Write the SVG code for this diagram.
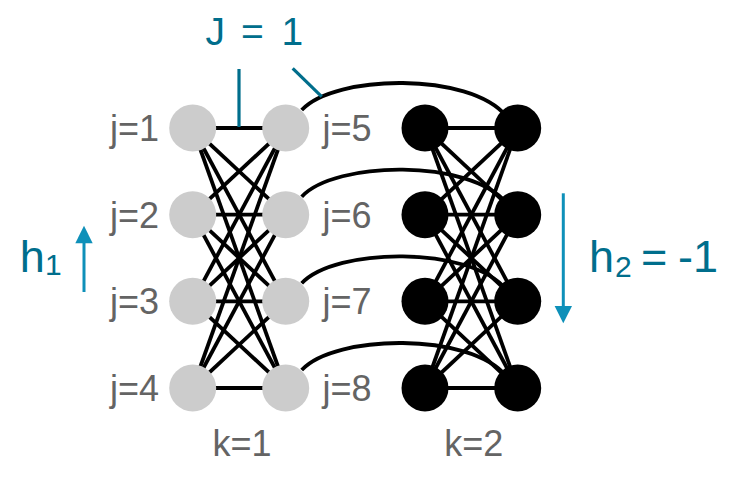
<svg xmlns="http://www.w3.org/2000/svg" width="735" height="490" viewBox="0 0 735 490">
<style>
.e{stroke:#000;stroke-width:3.8;fill:none}
.arc{stroke:#000;stroke-width:3.8;fill:none}
.lead{stroke:#006E8C;stroke-width:3.2;fill:none}
.g{fill:#CCCCCC}
.b{fill:#000}
.lbl{font-family:"Liberation Sans",Arial,sans-serif;font-size:36px;fill:#646464}
.teal{font-family:"Liberation Sans",Arial,sans-serif;fill:#006E8C}
</style>
<rect width="735" height="490" fill="#fff"/>
<g id="connectors">
<g id="edges-k1">
<line class="e" x1="192.7" y1="128" x2="285.7" y2="128"/>
<line class="e" x1="192.7" y1="128" x2="285.7" y2="214.7"/>
<line class="e" x1="192.7" y1="128" x2="285.7" y2="301.3"/>
<line class="e" x1="192.7" y1="128" x2="285.7" y2="388"/>
<line class="e" x1="192.7" y1="214.7" x2="285.7" y2="128"/>
<line class="e" x1="192.7" y1="214.7" x2="285.7" y2="214.7"/>
<line class="e" x1="192.7" y1="214.7" x2="285.7" y2="301.3"/>
<line class="e" x1="192.7" y1="214.7" x2="285.7" y2="388"/>
<line class="e" x1="192.7" y1="301.3" x2="285.7" y2="128"/>
<line class="e" x1="192.7" y1="301.3" x2="285.7" y2="214.7"/>
<line class="e" x1="192.7" y1="301.3" x2="285.7" y2="301.3"/>
<line class="e" x1="192.7" y1="301.3" x2="285.7" y2="388"/>
<line class="e" x1="192.7" y1="388" x2="285.7" y2="128"/>
<line class="e" x1="192.7" y1="388" x2="285.7" y2="214.7"/>
<line class="e" x1="192.7" y1="388" x2="285.7" y2="301.3"/>
<line class="e" x1="192.7" y1="388" x2="285.7" y2="388"/>
</g>
<g id="edges-k2">
<line class="e" x1="425" y1="128" x2="517.7" y2="128"/>
<line class="e" x1="425" y1="128" x2="517.7" y2="214.7"/>
<line class="e" x1="425" y1="128" x2="517.7" y2="301.3"/>
<line class="e" x1="425" y1="128" x2="517.7" y2="388"/>
<line class="e" x1="425" y1="214.7" x2="517.7" y2="128"/>
<line class="e" x1="425" y1="214.7" x2="517.7" y2="214.7"/>
<line class="e" x1="425" y1="214.7" x2="517.7" y2="301.3"/>
<line class="e" x1="425" y1="214.7" x2="517.7" y2="388"/>
<line class="e" x1="425" y1="301.3" x2="517.7" y2="128"/>
<line class="e" x1="425" y1="301.3" x2="517.7" y2="214.7"/>
<line class="e" x1="425" y1="301.3" x2="517.7" y2="301.3"/>
<line class="e" x1="425" y1="301.3" x2="517.7" y2="388"/>
<line class="e" x1="425" y1="388" x2="517.7" y2="128"/>
<line class="e" x1="425" y1="388" x2="517.7" y2="214.7"/>
<line class="e" x1="425" y1="388" x2="517.7" y2="301.3"/>
<line class="e" x1="425" y1="388" x2="517.7" y2="388"/>
</g>
<g id="inter-arcs">
<path class="arc" d="M301.7,110 C335,74 470,72 506,116"/>
<path class="arc" d="M301.7,196.7 C335,160.7 470,158.7 506,202.7"/>
<path class="arc" d="M301.7,283.3 C335,247.3 470,245.3 506,289.3"/>
<path class="arc" d="M301.7,370 C335,334 470,332 506,376"/>
</g>
<g id="leaders">
<line class="lead" x1="239" y1="69" x2="239" y2="127"/>
<line class="lead" x1="292.7" y1="68.3" x2="321.7" y2="96.7"/>
</g>
</g>
<g id="n1"><circle class="g" cx="192.7" cy="128" r="23.5"/></g>
<g id="n2"><circle class="g" cx="192.7" cy="214.7" r="23.5"/></g>
<g id="n3"><circle class="g" cx="192.7" cy="301.3" r="23.5"/></g>
<g id="n4"><circle class="g" cx="192.7" cy="388" r="23.5"/></g>
<g id="n5"><circle class="g" cx="285.7" cy="128" r="23.5"/></g>
<g id="n6"><circle class="g" cx="285.7" cy="214.7" r="23.5"/></g>
<g id="n7"><circle class="g" cx="285.7" cy="301.3" r="23.5"/></g>
<g id="n8"><circle class="g" cx="285.7" cy="388" r="23.5"/></g>
<g id="m1"><circle class="b" cx="425" cy="128" r="23.5"/></g>
<g id="m2"><circle class="b" cx="425" cy="214.7" r="23.5"/></g>
<g id="m3"><circle class="b" cx="425" cy="301.3" r="23.5"/></g>
<g id="m4"><circle class="b" cx="425" cy="388" r="23.5"/></g>
<g id="m5"><circle class="b" cx="517.7" cy="128" r="23.5"/></g>
<g id="m6"><circle class="b" cx="517.7" cy="214.7" r="23.5"/></g>
<g id="m7"><circle class="b" cx="517.7" cy="301.3" r="23.5"/></g>
<g id="m8"><circle class="b" cx="517.7" cy="388" r="23.5"/></g>
<g id="labels">
<text class="lbl" x="110" y="141">j=1</text>
<text class="lbl" x="110" y="227.7">j=2</text>
<text class="lbl" x="110" y="314.3">j=3</text>
<text class="lbl" x="110" y="401">j=4</text>
<text class="lbl" x="322.5" y="141">j=5</text>
<text class="lbl" x="322.5" y="227.7">j=6</text>
<text class="lbl" x="322.5" y="314.3">j=7</text>
<text class="lbl" x="322.5" y="401">j=8</text>
<text class="lbl" x="212.6" y="455.7">k=1</text>
<text class="lbl" x="444.3" y="455.7">k=2</text>
</g>
<g id="J-label">
<text class="teal" font-size="39" y="44.5"><tspan x="205.5">J</tspan><tspan x="241">=</tspan><tspan x="281.5">1</tspan></text>
</g>
<g id="h1">
<text class="teal" font-size="45" x="19.7" y="272">h<tspan font-size="30" x="45" y="274.5">1</tspan></text>
<line x1="84" y1="292" x2="84" y2="240" stroke="#0E90B9" stroke-width="3"/>
<polygon points="84,225.7 75.3,243.3 92.7,243.3" fill="#0E90B9"/>
</g>
<g id="h2">
<text class="teal" font-size="45" x="589" y="271.7">h<tspan font-size="30" x="615" y="276.5">2</tspan><tspan x="641" y="271.7">=</tspan><tspan x="678">-</tspan><tspan x="693">1</tspan></text>
<line x1="563.3" y1="193.3" x2="563.3" y2="309" stroke="#0E90B9" stroke-width="3"/>
<polygon points="563.3,323.3 554.6,306 572,306" fill="#0E90B9"/>
</g>
</svg>
